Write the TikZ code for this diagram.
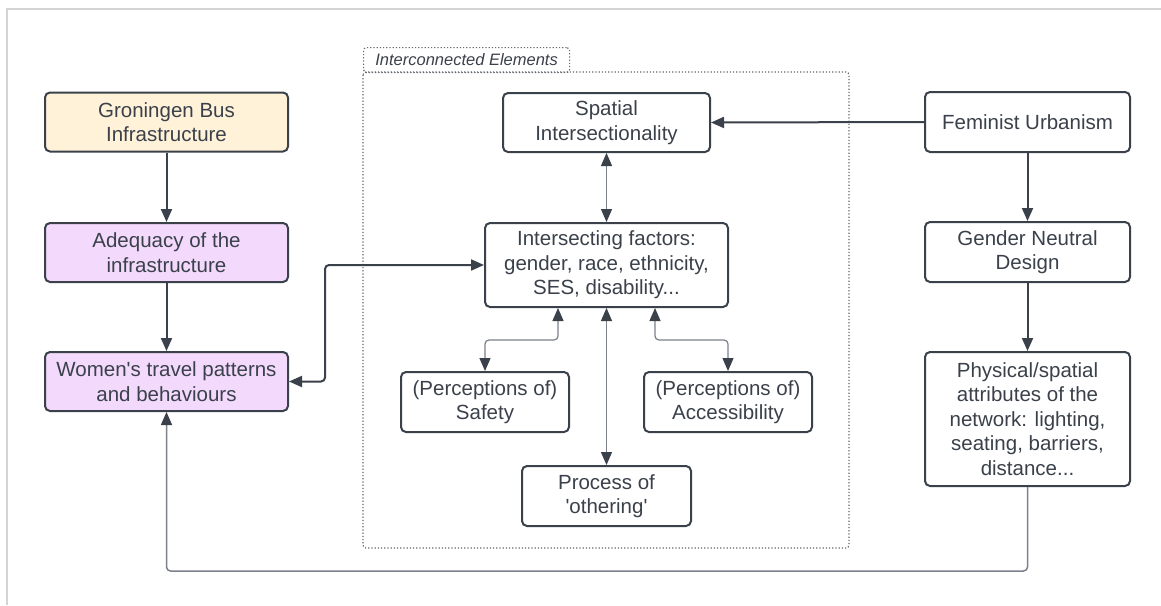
\documentclass[tikz,border=0pt]{standalone}
\usepackage{fontspec}
\setmainfont{Liberation Sans}
\usetikzlibrary{arrows.meta,calc}
\definecolor{ink}{HTML}{3A414A}
\definecolor{thin}{HTML}{7C8189}
\definecolor{frame}{HTML}{D4D4D4}
\definecolor{yel}{HTML}{FFF2D9}
\definecolor{pur}{HTML}{F3D9FC}
\tikzset{
  tip/.tip={Triangle[length=13pt,width=11pt,color=ink]},
  box/.style={draw=ink, line width=2pt, rounded corners=5pt, fill=white, text=ink,
    inner sep=0pt, align=center, font=\fontsize{20.5}{24.5}\selectfont},
  arr/.style={draw=ink, line width=2pt, -tip},
  darr/.style={draw=ink, line width=2pt, tip-tip, rounded corners=4pt},
  tarr/.style={draw=thin, line width=1.2pt, tip-tip, rounded corners=4pt},
  loop/.style={draw=thin, line width=1.5pt, -tip, rounded corners=4pt},
  cont/.style={draw=ink!80, line width=1.2pt, dotted, rounded corners=3pt}
}
\begin{document}
\begin{tikzpicture}[x=1pt,y=-1pt]
\useasboundingbox (0,0) rectangle (1161,605);
\fill[white] (0,0) rectangle (1161,605);
\draw[frame, line width=2pt] (1161,9) -- (7,9) -- (7,605);

% container
\draw[cont] (363,72) rectangle (849,548);
\node[cont, draw, minimum width=206pt, minimum height=25pt, inner sep=0pt, anchor=north west,
  text=ink, font=\fontsize{16.5}{19}\selectfont\itshape] (lab) at (363,47) {Interconnected Elements};

% left column
\node[box, fill=yel, minimum width=243pt, minimum height=59pt] (grn) at (166.5,122) {Groningen Bus\\Infrastructure};
\node[box, fill=pur, minimum width=243pt, minimum height=59pt] (adq) at (166.5,252.5) {Adequacy of the\\infrastructure};
\node[box, fill=pur, minimum width=243pt, minimum height=59pt] (wom) at (166.5,381.5) {Women\textquotesingle s travel patterns\\and behaviours};

% middle
\node[box, minimum width=207pt, minimum height=59pt] (spa) at (606.5,122.5) {Spatial\\Intersectionality};
\node[box, minimum width=243pt, minimum height=84pt] (ifa) at (606.5,265) {Intersecting factors:\\gender, race, ethnicity,\\SES, disability...};
\node[box, minimum width=168pt, minimum height=60pt] (saf) at (485,402) {(Perceptions of)\\Safety};
\node[box, minimum width=168pt, minimum height=60pt] (acc) at (728,402) {(Perceptions of)\\Accessibility};
\node[box, minimum width=169pt, minimum height=60pt] (oth) at (606.5,496) {Process of\\\textquotesingle othering\textquotesingle};

% right column
\node[box, minimum width=205pt, minimum height=60pt] (fem) at (1027.5,122) {Feminist Urbanism};
\node[box, minimum width=205pt, minimum height=60pt] (gnd) at (1027.5,252) {Gender Neutral\\Design};
\node[box, minimum width=205pt, minimum height=134pt] (phy) at (1027.5,419) {Physical/spatial\\attributes of the\\network: lighting,\\seating, barriers,\\distance...};

\coordinate (kink) at (325,300);
\coordinate (low) at (600,571);

% connectors
\draw[arr] (grn) -- (adq);
\draw[arr] (adq) -- (wom);
\draw[arr] (fem) -- (gnd);
\draw[arr] (gnd) -- (phy);
\draw[arr] (fem.west) -- (spa.east);
\draw[tarr] (spa.south) -- (ifa.north);
\draw[darr] (ifa.west) -- (ifa.west -| kink) -- (kink |- wom.east) -- (wom.east);
\draw[tarr] ([xshift=-48.5pt]ifa.south) -- ++(0,32) -| (saf.north);
\draw[tarr] ([xshift=48.5pt]ifa.south) -- ++(0,32) -| (acc.north);
\draw[tarr] (ifa.south) -- (oth.north);
\draw[loop] (phy.south) -- (phy.south |- low) -- (wom.south |- low) -- (wom.south);
\end{tikzpicture}
\end{document}
